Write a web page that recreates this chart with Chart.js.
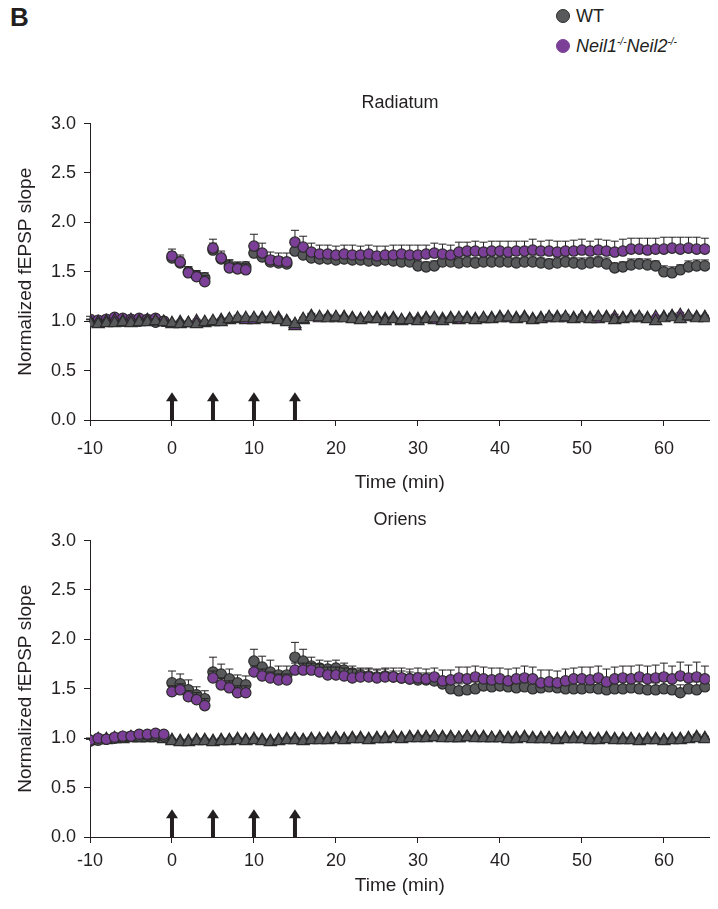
<!DOCTYPE html>
<html>
<head>
<meta charset="utf-8">
<script src="https://cdn.jsdelivr.net/npm/chart.js@4.4.1/dist/chart.umd.min.js"></script>
<style>
  body { margin: 0; background: #fff; width: 718px; height: 909px; position: relative; overflow: hidden;
         font-family: Arial, "Liberation Sans", sans-serif; color: #231f20; }
  #panel-label { position: absolute; left: 10px; top: 2px; font-size: 26px; font-weight: bold; }
  #legend { position: absolute; left: 556px; top: 4px; font-size: 18px; line-height: 25px; }
  #legend .dot { display: inline-block; width: 12px; height: 12px; border-radius: 50%;
                 border: 1px solid #2b2b2b; margin-right: 6px; vertical-align: -1px; }
  #legend sup { font-size: 10px; }
  canvas { position: absolute; left: 0; }
</style>
</head>
<body>
<div id="panel-label">B</div>
<div id="legend">
  <div><span class="dot" style="background:#58595b"></span>WT</div>
  <div><span class="dot" style="background:#7b3f98;border-color:#7b3f98"></span><i>Neil1<sup>-/-</sup>Neil2<sup>-/-</sup></i></div>
</div>
<canvas id="radiatum" width="718" height="420" style="top:84px"></canvas>
<canvas id="oriens" width="718" height="408" style="top:501px"></canvas>

<script>
const minutes = [-10, -9, -8, -7, -6, -5, -4, -3, -2, -1,
  0, 1, 2, 3, 4, 5, 6, 7, 8, 9, 10, 11, 12, 13, 14, 15, 16, 17, 18, 19,
  20, 21, 22, 23, 24, 25, 26, 27, 28, 29, 30, 31, 32, 33, 34, 35, 36, 37, 38, 39,
  40, 41, 42, 43, 44, 45, 46, 47, 48, 49, 50, 51, 52, 53, 54, 55, 56, 57, 58, 59,
  60, 61, 62, 63, 64, 65];
const xTicks = [-10, 0, 10, 20, 30, 40, 50, 60];
const yTicks = [0, 0.5, 1.0, 1.5, 2.0, 2.5, 3.0];
const arrowTimes = [0, 5, 10, 15];
const arrowTop = 0.28;

// Radiatum
const radWtCircle = [1.00, 0.99, 1.00, 1.01, 1.00, 1.01, 1.00, 1.01, 0.99, 1.00,
  1.64, 1.59, 1.50, 1.46, 1.44, 1.72, 1.63, 1.56, 1.54, 1.55,
  1.69, 1.65, 1.60, 1.59, 1.58, 1.71, 1.67, 1.64, 1.63, 1.63,
  1.62, 1.63, 1.62, 1.62, 1.61, 1.61, 1.62, 1.61, 1.60, 1.60,
  1.56, 1.55, 1.56, 1.60, 1.60, 1.59, 1.60, 1.59, 1.60, 1.60,
  1.60, 1.60, 1.59, 1.60, 1.60, 1.59, 1.58, 1.59, 1.60, 1.59,
  1.58, 1.59, 1.60, 1.58, 1.54, 1.55, 1.57, 1.58, 1.57, 1.56,
  1.50, 1.49, 1.52, 1.55, 1.56, 1.56];
const radWtCircleErr = [0.02, 0.02, 0.02, 0.02, 0.02, 0.02, 0.02, 0.02, 0.02, 0.02,
  0.06, 0.06, 0.05, 0.05, 0.05, 0.07, 0.06, 0.06, 0.05, 0.05,
  0.08, 0.07, 0.06, 0.06, 0.06, 0.08, 0.07, 0.06, 0.06, 0.06,
  0.05, 0.05, 0.05, 0.05, 0.05, 0.05, 0.05, 0.05, 0.05, 0.05,
  0.05, 0.05, 0.05, 0.06, 0.05, 0.05, 0.06, 0.05, 0.05, 0.05,
  0.05, 0.06, 0.05, 0.05, 0.06, 0.05, 0.05, 0.06, 0.05, 0.05,
  0.06, 0.05, 0.05, 0.06, 0.05, 0.05, 0.06, 0.05, 0.06, 0.05,
  0.06, 0.06, 0.05, 0.06, 0.06, 0.06];
const radKoCircle = [1.02, 1.01, 1.02, 1.04, 1.03, 1.02, 1.03, 1.02, 1.03, 1.00,
  1.66, 1.60, 1.49, 1.45, 1.40, 1.74, 1.64, 1.54, 1.53, 1.52,
  1.76, 1.69, 1.62, 1.61, 1.60, 1.80, 1.75, 1.70, 1.68, 1.68,
  1.67, 1.68, 1.67, 1.67, 1.68, 1.66, 1.67, 1.67, 1.68, 1.67,
  1.67, 1.68, 1.69, 1.68, 1.67, 1.70, 1.71, 1.71, 1.70, 1.71,
  1.71, 1.70, 1.71, 1.71, 1.72, 1.71, 1.71, 1.70, 1.71, 1.71,
  1.72, 1.71, 1.72, 1.71, 1.70, 1.71, 1.73, 1.73, 1.72, 1.73,
  1.73, 1.74, 1.73, 1.74, 1.73, 1.73];
const radKoCircleErr = [0.03, 0.03, 0.03, 0.03, 0.03, 0.03, 0.03, 0.03, 0.03, 0.03,
  0.07, 0.07, 0.06, 0.06, 0.06, 0.09, 0.07, 0.08, 0.07, 0.06,
  0.12, 0.10, 0.08, 0.08, 0.09, 0.12, 0.11, 0.09, 0.09, 0.09,
  0.09, 0.09, 0.10, 0.09, 0.09, 0.10, 0.09, 0.10, 0.09, 0.10,
  0.10, 0.09, 0.10, 0.10, 0.10, 0.10, 0.09, 0.10, 0.10, 0.10,
  0.10, 0.11, 0.10, 0.10, 0.11, 0.10, 0.11, 0.11, 0.10, 0.11,
  0.11, 0.10, 0.11, 0.11, 0.11, 0.12, 0.11, 0.11, 0.12, 0.11,
  0.12, 0.11, 0.12, 0.11, 0.12, 0.11];
const radWtTri = [0.98, 0.97, 0.98, 0.98, 0.99, 0.98, 0.99, 0.99, 1.00, 0.99,
  0.98, 0.97, 0.98, 0.97, 0.99, 1.00, 0.99, 1.02, 1.03, 1.03,
  1.03, 1.02, 1.03, 1.01, 0.99, 0.97, 1.02, 1.04, 1.04, 1.03,
  1.04, 1.03, 1.02, 1.01, 1.03, 1.02, 1.00, 1.02, 1.01, 1.01,
  1.00, 1.02, 1.03, 1.00, 1.02, 1.03, 1.02, 1.01, 1.03, 1.02,
  1.03, 1.04, 1.02, 1.03, 1.01, 1.02, 1.04, 1.03, 1.04, 1.02,
  1.03, 1.02, 1.04, 1.03, 1.01, 1.02, 1.03, 1.04, 1.02, 1.00,
  1.03, 1.04, 1.02, 1.05, 1.03, 1.03];
const radKoTri = [1.00, 0.99, 1.00, 1.01, 1.00, 1.01, 1.00, 1.01, 1.00, 0.99,
  0.97, 0.99, 0.98, 1.00, 0.98, 0.99, 1.01, 1.01, 1.02, 1.01,
  1.01, 1.03, 1.02, 1.03, 1.00, 0.95, 1.01, 1.05, 1.03, 1.04,
  1.03, 1.04, 1.03, 1.02, 1.02, 1.03, 1.02, 1.03, 1.00, 1.02,
  1.02, 1.03, 1.01, 1.02, 1.03, 1.01, 1.03, 1.02, 1.02, 1.03,
  1.04, 1.03, 1.03, 1.04, 1.02, 1.03, 1.03, 1.04, 1.03, 1.03,
  1.04, 1.03, 1.02, 1.04, 1.04, 1.03, 1.04, 1.03, 1.03, 1.04,
  1.04, 1.05, 1.06, 1.04, 1.04, 1.04];
const radTriErr = [0.02, 0.02, 0.02, 0.02, 0.02, 0.02, 0.02, 0.02, 0.02, 0.02,
  0.02, 0.02, 0.02, 0.02, 0.02, 0.02, 0.02, 0.02, 0.03, 0.02,
  0.02, 0.02, 0.02, 0.02, 0.02, 0.03, 0.02, 0.03, 0.02, 0.03,
  0.02, 0.02, 0.02, 0.02, 0.02, 0.02, 0.02, 0.02, 0.02, 0.02,
  0.02, 0.02, 0.02, 0.02, 0.02, 0.02, 0.02, 0.02, 0.02, 0.02,
  0.02, 0.02, 0.02, 0.02, 0.02, 0.02, 0.03, 0.02, 0.03, 0.02,
  0.03, 0.02, 0.02, 0.02, 0.03, 0.02, 0.02, 0.03, 0.02, 0.02,
  0.02, 0.03, 0.03, 0.02, 0.02, 0.02];

// Oriens
const orWtCircle = [0.97, 0.98, 0.99, 1.00, 1.01, 1.02, 1.02, 1.03, 1.03, 1.02,
  1.56, 1.55, 1.49, 1.44, 1.40, 1.67, 1.65, 1.60, 1.56, 1.54,
  1.78, 1.72, 1.67, 1.64, 1.64, 1.82, 1.78, 1.73, 1.71, 1.70,
  1.71, 1.69, 1.66, 1.64, 1.63, 1.62, 1.63, 1.62, 1.61, 1.60,
  1.59, 1.59, 1.58, 1.55, 1.50, 1.48, 1.49, 1.50, 1.53, 1.52,
  1.53, 1.52, 1.51, 1.52, 1.50, 1.51, 1.52, 1.51, 1.50, 1.50,
  1.50, 1.51, 1.50, 1.49, 1.50, 1.50, 1.51, 1.50, 1.49, 1.49,
  1.50, 1.49, 1.46, 1.50, 1.49, 1.52];
const orWtCircleErr = [0.02, 0.02, 0.02, 0.02, 0.02, 0.02, 0.02, 0.02, 0.02, 0.02,
  0.12, 0.10, 0.10, 0.08, 0.08, 0.15, 0.10, 0.10, 0.08, 0.09,
  0.12, 0.11, 0.12, 0.09, 0.09, 0.15, 0.12, 0.09, 0.08, 0.08,
  0.08, 0.07, 0.07, 0.07, 0.07, 0.07, 0.07, 0.06, 0.07, 0.07,
  0.07, 0.07, 0.07, 0.07, 0.07, 0.07, 0.07, 0.07, 0.07, 0.07,
  0.07, 0.08, 0.07, 0.07, 0.08, 0.07, 0.07, 0.08, 0.07, 0.07,
  0.08, 0.07, 0.07, 0.08, 0.07, 0.08, 0.07, 0.07, 0.08, 0.07,
  0.08, 0.07, 0.08, 0.07, 0.08, 0.07];
const orKoCircle = [0.98, 1.00, 0.99, 1.01, 1.02, 1.02, 1.04, 1.04, 1.05, 1.04,
  1.47, 1.49, 1.42, 1.39, 1.33, 1.61, 1.54, 1.51, 1.46, 1.46,
  1.67, 1.63, 1.61, 1.59, 1.59, 1.69, 1.69, 1.69, 1.67, 1.64,
  1.64, 1.63, 1.61, 1.62, 1.62, 1.61, 1.62, 1.62, 1.61, 1.60,
  1.61, 1.60, 1.62, 1.58, 1.59, 1.61, 1.60, 1.62, 1.60, 1.59,
  1.60, 1.58, 1.60, 1.61, 1.60, 1.56, 1.57, 1.56, 1.58, 1.60,
  1.60, 1.59, 1.61, 1.57, 1.60, 1.61, 1.60, 1.62, 1.60, 1.61,
  1.62, 1.60, 1.63, 1.61, 1.62, 1.60];
const orKoCircleErr = [0.02, 0.02, 0.02, 0.02, 0.02, 0.02, 0.02, 0.02, 0.02, 0.02,
  0.06, 0.06, 0.06, 0.07, 0.07, 0.07, 0.07, 0.07, 0.07, 0.07,
  0.06, 0.07, 0.06, 0.06, 0.06, 0.07, 0.07, 0.07, 0.08, 0.08,
  0.08, 0.08, 0.09, 0.08, 0.09, 0.09, 0.09, 0.09, 0.10, 0.10,
  0.10, 0.10, 0.09, 0.11, 0.10, 0.11, 0.12, 0.11, 0.12, 0.12,
  0.11, 0.12, 0.11, 0.12, 0.12, 0.13, 0.12, 0.12, 0.12, 0.11,
  0.12, 0.13, 0.12, 0.13, 0.12, 0.12, 0.13, 0.12, 0.13, 0.13,
  0.14, 0.13, 0.14, 0.13, 0.15, 0.13];
const orWtTri = [0.97, 0.98, 0.98, 0.99, 0.99, 1.00, 1.00, 1.00, 1.00, 0.99,
  0.97, 0.96, 0.96, 0.97, 0.97, 0.96, 0.97, 0.97, 0.98, 0.97,
  0.98, 0.97, 0.96, 0.97, 0.98, 0.98, 0.97, 0.98, 0.98, 0.98,
  0.99, 0.98, 0.99, 0.99, 0.98, 0.99, 0.99, 1.00, 0.99, 1.00,
  1.00, 1.00, 1.01, 1.00, 1.00, 1.00, 1.01, 1.00, 1.00, 1.00,
  1.00, 0.99, 0.99, 1.00, 0.99, 0.99, 0.99, 0.98, 0.99, 0.99,
  0.99, 0.98, 0.98, 0.99, 0.98, 0.98, 0.98, 0.97, 0.98, 0.98,
  0.97, 0.98, 0.98, 0.99, 1.00, 0.99];
const orKoTri = [0.98, 0.99, 0.99, 1.00, 1.00, 1.01, 1.00, 1.01, 1.01, 1.00,
  0.98, 0.97, 0.97, 0.98, 0.98, 0.97, 0.98, 0.98, 0.99, 0.98,
  0.99, 0.98, 0.97, 0.98, 0.99, 0.99, 0.98, 0.99, 0.99, 0.99,
  1.00, 0.99, 1.00, 1.00, 0.99, 1.00, 1.00, 1.01, 1.00, 1.01,
  1.01, 1.01, 1.01, 1.01, 1.01, 1.00, 1.01, 1.01, 1.01, 1.00,
  1.01, 1.00, 1.00, 1.01, 1.00, 1.00, 1.00, 0.99, 1.00, 1.00,
  1.00, 0.99, 0.99, 1.00, 0.99, 0.99, 0.99, 0.98, 0.99, 0.99,
  0.98, 0.99, 0.99, 1.00, 1.01, 1.00];
const orTriErr = [0.02, 0.02, 0.02, 0.02, 0.02, 0.02, 0.02, 0.02, 0.02, 0.02,
  0.02, 0.02, 0.02, 0.02, 0.02, 0.02, 0.02, 0.02, 0.02, 0.02,
  0.02, 0.02, 0.02, 0.02, 0.02, 0.02, 0.02, 0.02, 0.02, 0.02,
  0.02, 0.02, 0.02, 0.02, 0.02, 0.02, 0.02, 0.02, 0.02, 0.02,
  0.02, 0.02, 0.02, 0.02, 0.02, 0.02, 0.02, 0.02, 0.02, 0.02,
  0.02, 0.02, 0.02, 0.02, 0.02, 0.02, 0.02, 0.02, 0.02, 0.02,
  0.02, 0.02, 0.02, 0.02, 0.02, 0.02, 0.02, 0.02, 0.02, 0.02,
  0.02, 0.02, 0.02, 0.02, 0.03, 0.02];

const INK = '#231f20';
const GRAY = '#58595b';
const PURPLE = '#7b3f98';
const FONT = 'Arial, "Liberation Sans", sans-serif';

// upper error bars, drawn just before each dataset so markers cover the stem
const errorBars = {
  id: 'errorBars',
  beforeDatasetDraw(chart, args) {
    const ds = chart.data.datasets[args.index];
    if (!ds.errors) return;
    const { ctx, scales: { x, y } } = chart;
    ctx.save();
    ctx.strokeStyle = INK;
    ctx.lineWidth = 1;
    ds.data.forEach((p, i) => {
      const px = x.getPixelForValue(p.x);
      const y0 = y.getPixelForValue(p.y);
      const y1 = y.getPixelForValue(p.y + ds.errors[i]);
      ctx.beginPath();
      ctx.moveTo(px, y0);
      ctx.lineTo(px, y1);
      ctx.moveTo(px - 4, y1);
      ctx.lineTo(px + 4, y1);
      ctx.stroke();
    });
    ctx.restore();
  }
};

// stimulation arrows
const arrows = {
  id: 'arrows',
  afterDatasetsDraw(chart) {
    const { ctx, scales: { x, y } } = chart;
    const yBase = y.getPixelForValue(0);
    const yTip = y.getPixelForValue(arrowTop);
    ctx.save();
    ctx.fillStyle = INK;
    arrowTimes.forEach(t => {
      const px = x.getPixelForValue(t);
      ctx.fillRect(px - 2, yTip + 7, 4, yBase - yTip - 7);
      ctx.beginPath();
      ctx.moveTo(px, yTip);
      ctx.lineTo(px + 6, yTip + 9);
      ctx.lineTo(px - 6, yTip + 9);
      ctx.closePath();
      ctx.fill();
    });
    ctx.restore();
  }
};

function points(vals) {
  return minutes.map((t, i) => ({ x: t, y: vals[i] }));
}

function circleSet(vals, errs, color, order) {
  return {
    data: points(vals), errors: errs, order,
    showLine: false, pointStyle: 'circle', pointRadius: 5.2,
    backgroundColor: color, borderColor: '#2b2b2b', borderWidth: 1.2,
  };
}

function triSet(vals, errs, color, order) {
  return {
    data: points(vals), errors: errs, order,
    showLine: false, pointStyle: 'triangle', pointRadius: 7,
    backgroundColor: color, borderColor: '#2b2b2b', borderWidth: 1.2,
  };
}

function makeChart(id, title, datasets, xFit, tickPad, titlePad) {
  const ctx = document.getElementById(id).getContext('2d');
  return new Chart(ctx, {
    type: 'scatter',
    data: { datasets },
    plugins: [errorBars, arrows],
    options: {
      responsive: false,
      animation: false,
      events: [],
      layout: { padding: { left: 0, right: 6, top: 0, bottom: 0 } },
      plugins: {
        legend: { display: false },
        tooltip: { enabled: false },
        title: {
          display: true, text: title, fullSize: false, color: INK,
          font: { family: FONT, size: 18, weight: 'normal' },
          padding: { top: 8, bottom: 10 },
        },
      },
      scales: {
        x: {
          type: 'linear', min: -10, max: 65.6,
          afterBuildTicks: s => { s.ticks = xTicks.map(v => ({ value: v })); },
          afterFit: s => { s.height = xFit; },
          grid: { drawOnChartArea: false, drawTicks: true, tickLength: 6, color: INK },
          border: { display: true, color: INK, width: 1 },
          ticks: { color: INK, padding: tickPad, maxRotation: 0, font: { family: FONT, size: 18 } },
          title: {
            display: true, text: 'Time (min)', color: INK,
            font: { family: FONT, size: 19 }, padding: { top: 0, bottom: titlePad },
          },
        },
        y: {
          type: 'linear', min: 0, max: 3,
          afterBuildTicks: s => { s.ticks = yTicks.map(v => ({ value: v })); },
          afterFit: s => { s.width = 90; },
          grid: { drawOnChartArea: false, drawTicks: true, tickLength: 6, color: INK },
          border: { display: true, color: INK, width: 1 },
          ticks: { color: INK, padding: 8, font: { family: FONT, size: 18 }, callback: v => v.toFixed(1) },
          title: {
            display: true, text: 'Normalized fEPSP slope', color: INK,
            font: { family: FONT, size: 19 }, padding: { top: 14, bottom: 0 },
          },
        },
      },
    },
  });
}

makeChart('radiatum', 'Radiatum', [
  circleSet(radWtCircle, radWtCircleErr, GRAY, 4),
  circleSet(radKoCircle, radKoCircleErr, PURPLE, 3),
  triSet(radKoTri, radTriErr, PURPLE, 2),
  triSet(radWtTri, radTriErr, GRAY, 1),
], 84, 12, 10);

makeChart('oriens', 'Oriens', [
  triSet(orKoTri, orTriErr, PURPLE, 4),
  triSet(orWtTri, orTriErr, GRAY, 3),
  circleSet(orWtCircle, orWtCircleErr, GRAY, 2),
  circleSet(orKoCircle, orKoCircleErr, PURPLE, 1),
], 72, 7, 12);
</script>
</body>
</html>
